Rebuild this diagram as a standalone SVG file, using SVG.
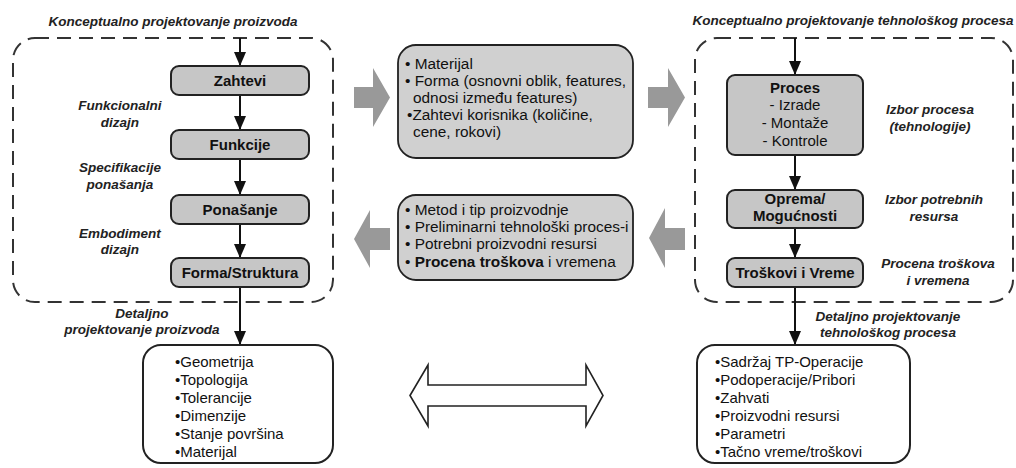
<svg xmlns="http://www.w3.org/2000/svg" width="1016" height="468" viewBox="0 0 1016 468">
  <style>
    .lbl { font-family: "Liberation Sans", Arial, sans-serif; font-size: 13.5px; font-weight: bold; font-style: italic; fill: #222; }
    .c { text-anchor: middle; }
    .node { fill: #c6c6c6; stroke: #222; stroke-width: 2; }
    .mid { fill: #d0d0d0; stroke: #222; stroke-width: 1.8; }
    .out { fill: #fff; stroke: #222; stroke-width: 2; }
    .dash { fill: none; stroke: #333; stroke-width: 2; stroke-dasharray: 14 8; }
    .nt { font-family: "Liberation Sans", Arial, sans-serif; font-size: 15px; font-weight: bold; fill: #111; text-anchor: middle; }
    .rt { font-family: "Liberation Sans", Arial, sans-serif; font-size: 15px; fill: #111; }
    .mt { font-size: 15.4px; }
    .conn { stroke: #111; stroke-width: 2; fill: none; marker-end: url(#ah); }
    .block { fill: #999; }
  </style>
  <defs>
    <marker id="ah" viewBox="0 0 14 12" refX="14" refY="6" markerWidth="14" markerHeight="12" markerUnits="userSpaceOnUse" orient="auto">
      <path d="M0,0 L14,6 L0,12 z" fill="#111"/>
    </marker>
  </defs>

  <!-- section titles -->
  <text class="lbl c" x="173" y="26">Konceptualno projektovanje proizvoda</text>
  <text class="lbl c" x="853" y="25">Konceptualno projektovanje tehnološkog procesa</text>

  <!-- dashed boundaries of the conceptual stages -->
  <rect class="dash" x="13" y="38" width="320" height="264" rx="22"/>
  <rect class="dash" x="695" y="38" width="318" height="264" rx="22"/>

  <!-- connectors -->
  <g id="connectors">
    <line class="conn" x1="240" y1="38" x2="240" y2="66"/>
    <line class="conn" x1="240" y1="95" x2="240" y2="130"/>
    <line class="conn" x1="240" y1="159" x2="240" y2="195"/>
    <line class="conn" x1="240" y1="224" x2="240" y2="258"/>
    <line class="conn" x1="240" y1="287" x2="240" y2="345"/>
    <line class="conn" x1="795" y1="38" x2="795" y2="75"/>
    <line class="conn" x1="795" y1="155" x2="795" y2="190"/>
    <line class="conn" x1="795" y1="228" x2="795" y2="258"/>
    <line class="conn" x1="795" y1="287" x2="795" y2="345"/>
    <!-- broad grey flow arrows -->
    <polygon class="block" points="354,87 373,87 373,68 390,97.5 373,127 373,108 354,108"/>
    <polygon class="block" points="648,87 668,87 668,68 685,97.5 668,127 668,108 648,108"/>
    <polygon class="block" points="390,228 370,228 370,210 354,239 370,268 370,250 390,250"/>
    <polygon class="block" points="685,228 665,228 665,208 649,238 665,268 665,250 685,250"/>
    <!-- two-way correspondence arrow -->
    <polygon points="410,395.5 428,365 428,385 586,385 586,365 603,395.5 586,426 586,406 428,406 428,426" fill="#fff" stroke="#222" stroke-width="1.6" stroke-linejoin="miter"/>
  </g>

  <!-- stage labels, product side -->
  <text class="lbl c" x="120" y="110">Funkcionalni</text>
  <text class="lbl c" x="120" y="127">dizajn</text>
  <text class="lbl c" x="120" y="172">Specifikacije</text>
  <text class="lbl c" x="120" y="189">ponašanja</text>
  <text class="lbl c" x="120" y="238">Embodiment</text>
  <text class="lbl c" x="120" y="254">dizajn</text>
  <text class="lbl c" x="142" y="318">Detaljno</text>
  <text class="lbl c" x="142" y="334">projektovanje proizvoda</text>

  <!-- stage labels, process side -->
  <text class="lbl c" x="930" y="114">Izbor procesa</text>
  <text class="lbl c" x="930" y="131">(tehnologije)</text>
  <text class="lbl c" x="934" y="204">Izbor  potrebnih</text>
  <text class="lbl c" x="934" y="221">resursa</text>
  <text class="lbl c" x="938" y="268">Procena troškova</text>
  <text class="lbl c" x="938" y="285">i vremena</text>
  <text class="lbl c" x="888" y="321">Detaljno projektovanje</text>
  <text class="lbl c" x="888" y="337">tehnološkog procesa</text>

  <!-- product design nodes -->
  <g id="zahtevi">
    <rect class="node" x="171" y="66" width="138" height="29" rx="8"/>
    <text class="nt" x="240" y="86">Zahtevi</text>
  </g>
  <g id="funkcije">
    <rect class="node" x="171" y="130" width="138" height="29" rx="8"/>
    <text class="nt" x="240" y="150">Funkcije</text>
  </g>
  <g id="ponasanje">
    <rect class="node" x="171" y="195" width="138" height="29" rx="8"/>
    <text class="nt" x="240" y="215">Ponašanje</text>
  </g>
  <g id="forma">
    <rect class="node" x="171" y="258" width="138" height="29" rx="8"/>
    <text class="nt" x="240" y="278">Forma/Struktura</text>
  </g>
  <g id="detalj-proizvod">
    <rect class="out" x="143" y="345" width="190" height="118" rx="18"/>
    <text class="rt" x="175" y="367">•Geometrija</text>
    <text class="rt" x="175" y="385">•Topologija</text>
    <text class="rt" x="175" y="403">•Tolerancije</text>
    <text class="rt" x="175" y="421">•Dimenzije</text>
    <text class="rt" x="175" y="439">•Stanje površina</text>
    <text class="rt" x="175" y="457">•Materijal</text>
  </g>

  <!-- exchanged information -->
  <g id="info-proizvod">
    <rect class="mid" x="398" y="45" width="235" height="113" rx="18"/>
    <text class="rt mt" x="405" y="69">• Materijal</text>
    <text class="rt mt" x="405" y="86">•  Forma (osnovni oblik, features,</text>
    <text class="rt mt" x="413" y="103">odnosi između features)</text>
    <text class="rt mt" x="407" y="120">•Zahtevi korisnika (količine,</text>
    <text class="rt mt" x="413" y="137">cene, rokovi)</text>
  </g>
  <g id="info-proces">
    <rect class="mid" x="398" y="195" width="235" height="85" rx="18"/>
    <text class="rt mt" x="405" y="215">•  Metod i tip proizvodnje</text>
    <text class="rt mt" x="405" y="232">•  Preliminarni tehnološki proces-i</text>
    <text class="rt mt" x="405" y="249">•  Potrebni proizvodni resursi</text>
    <text class="rt mt" x="405" y="267">•  <tspan font-weight="bold">Procena troškova</tspan> i vremena</text>
  </g>

  <!-- process planning nodes -->
  <g id="proces">
    <rect class="node" x="727" y="75" width="136" height="80" rx="8"/>
    <text class="nt" x="795" y="93">Proces</text>
    <text class="rt c" x="795" y="110">- Izrade</text>
    <text class="rt c" x="795" y="128">- Montaže</text>
    <text class="rt c" x="795" y="146">- Kontrole</text>
  </g>
  <g id="oprema">
    <rect class="node" x="727" y="190" width="136" height="38" rx="8"/>
    <text class="nt" x="795" y="204">Oprema/</text>
    <text class="nt" x="795" y="221">Mogućnosti</text>
  </g>
  <g id="troskovi">
    <rect class="node" x="727" y="258" width="136" height="29" rx="8"/>
    <text class="nt" x="795" y="278">Troškovi i Vreme</text>
  </g>
  <g id="detalj-proces">
    <rect class="out" x="697" y="345" width="213" height="118" rx="18"/>
    <text class="rt" x="715" y="367">•Sadržaj TP-Operacije</text>
    <text class="rt" x="715" y="385">•Podoperacije/Pribori</text>
    <text class="rt" x="715" y="403">•Zahvati</text>
    <text class="rt" x="715" y="421">•Proizvodni resursi</text>
    <text class="rt" x="715" y="439">•Parametri</text>
    <text class="rt" x="715" y="457">•Tačno vreme/troškovi</text>
  </g>
</svg>
